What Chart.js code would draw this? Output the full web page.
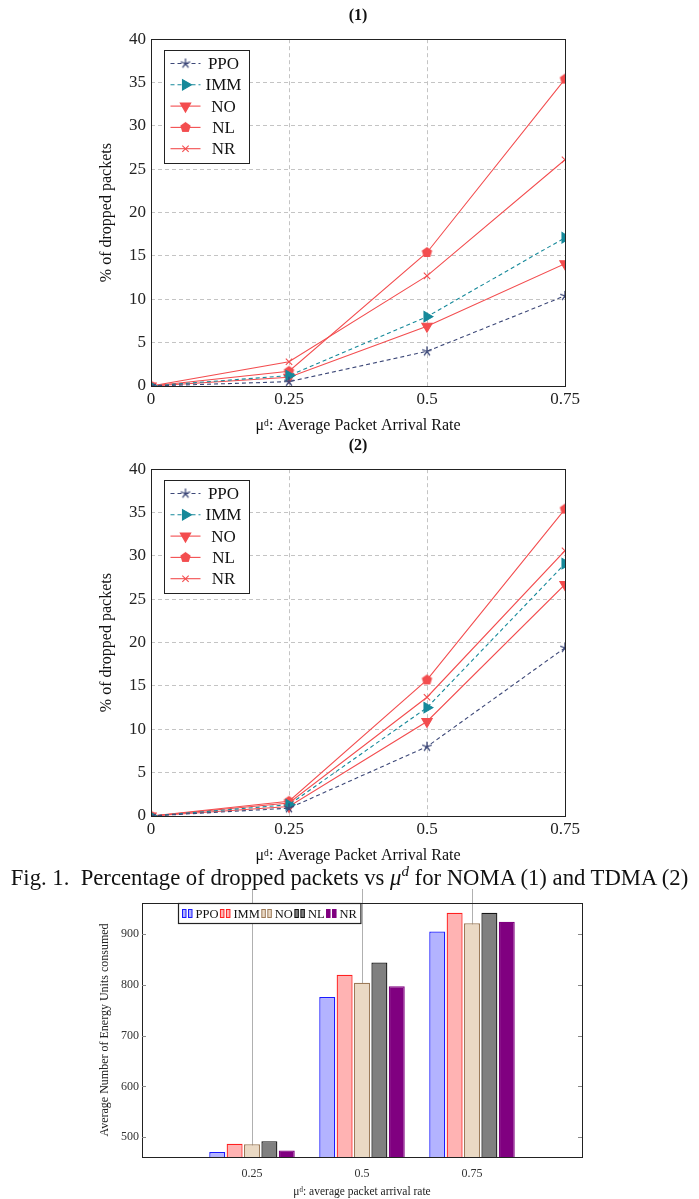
<!DOCTYPE html>
<html lang="en">
<head>
<meta charset="utf-8">
<title>dropped packets / energy</title>
<script src="https://cdn.jsdelivr.net/npm/chart.js@4.4.1/dist/chart.umd.min.js"></script>
<style>
  body { margin: 0; background: #fff; width: 699px; height: 1199px; position: relative; overflow: hidden; }
  canvas { position: absolute; left: 0; }
  #c1 { top: 0; }
  #c2 { top: 430px; }
  #c3 { top: 880px; }
  #caption {
    position: absolute; left: 0; top: 865px; width: 699px; text-align: center;
    font-family: "Liberation Serif", "Times New Roman", serif; font-size: 22.7px; color: #111;
    white-space: nowrap; line-height: 26px;
  }
  #caption sup { font-size: 15px; font-style: italic; line-height: 0; }
</style>
</head>
<body>
<canvas id="c1" width="699" height="435"></canvas>
<canvas id="c2" width="699" height="435"></canvas>
<canvas id="c3" width="699" height="319"></canvas>
<div id="caption">Fig. 1.&nbsp;&nbsp;Percentage of dropped packets vs <i>μ</i><sup>d</sup> for NOMA (1) and TDMA (2)</div>

<script>
// arrival rates (x axis of the line charts)
const rates = [0, 0.25, 0.5, 0.75];

// (1) NOMA - % of dropped packets
const nomaPPO = [0, 0.5, 4.0, 10.4];
const nomaIMM = [0, 1.2, 8.0, 17.1];
const nomaNO  = [0, 1.0, 6.9, 14.1];
const nomaNL  = [0, 1.7, 15.4, 35.4];
const nomaNR  = [0, 2.8, 12.7, 26.1];

// (2) TDMA - % of dropped packets
const tdmaPPO = [0, 0.9, 8.0, 19.4];
const tdmaIMM = [0, 1.3, 12.5, 29.1];
const tdmaNO  = [0, 1.1, 10.9, 26.7];
const tdmaNL  = [0, 1.7, 15.7, 35.4];
const tdmaNR  = [0, 1.5, 13.7, 30.6];

// energy bar chart
const barLabels = ['0', '0.25', '0.5', '0.75', '1'];
const energyPPO = [471, 776, 905];
const energyIMM = [487, 820, 942];
const energyNO  = [486, 804, 921];
const energyNL  = [492, 844, 942];
const energyNR  = [474, 797, 924];
const energyTicks = [500, 600, 700, 800, 900];

const serif = '"Liberation Serif", "Times New Roman", serif';
const cPPO = '#3d4878';
const cIMM = '#16899a';
const cRed = '#f34d4f';

// pgfplots-like markers that chart.js doesn't have
function pentagon(color, r) {
  const c = document.createElement('canvas');
  const s = Math.ceil(r * 2 + 2);
  c.width = c.height = s;
  const g = c.getContext('2d');
  g.fillStyle = color;
  g.beginPath();
  for (let k = 0; k < 5; k++) {
    const a = -Math.PI / 2 + k * 2 * Math.PI / 5;
    const px = s / 2 + r * Math.cos(a), py = s / 2 + r * Math.sin(a);
    if (k) g.lineTo(px, py); else g.moveTo(px, py);
  }
  g.closePath();
  g.fill();
  return c;
}
function asterisk(color, r) {
  const c = document.createElement('canvas');
  const s = Math.ceil(r * 2 + 2);
  c.width = c.height = s;
  const g = c.getContext('2d');
  g.strokeStyle = color;
  g.lineWidth = 1.3;
  g.beginPath();
  for (let k = 0; k < 5; k++) {
    const a = -Math.PI / 2 + k * 2 * Math.PI / 5;
    g.moveTo(s / 2, s / 2);
    g.lineTo(s / 2 + r * Math.cos(a), s / 2 + r * Math.sin(a));
  }
  g.stroke();
  return c;
}
const starImg = asterisk(cPPO, 5);
const pentImg = pentagon(cRed, 5.5);

// plot frame (pgfplots style box)
const frame = {
  id: 'frame',
  afterDatasetsDraw(chart, args, opts) {
    const a = chart.chartArea, ctx = chart.ctx;
    ctx.save();
    if (opts.gridUp) {
      // the bar chart's vertical grid pokes out above the frame
      const x = chart.scales.x;
      ctx.strokeStyle = '#b0b0b0';
      for (let i = 1; i < barLabels.length - 1; i++) {
        const px = Math.round(x.getPixelForTick(i)) + 0.5;
        ctx.beginPath();
        ctx.moveTo(px, a.top); ctx.lineTo(px, a.top - opts.gridUp);
        ctx.stroke();
      }
    }
    ctx.strokeStyle = '#222';
    ctx.lineWidth = 1;
    ctx.strokeRect(Math.round(a.left) + 0.5, Math.round(a.top) + 0.5,
                   Math.round(a.right - a.left), Math.round(a.bottom - a.top));
    if (opts.yTicks) {
      const y = chart.scales.y;
      ctx.strokeStyle = '#888';
      y.ticks.forEach(t => {
        const py = Math.round(y.getPixelForValue(t.value)) + 0.5;
        ctx.beginPath();
        ctx.moveTo(a.left, py); ctx.lineTo(a.left + 4, py);
        ctx.moveTo(a.right, py); ctx.lineTo(a.right - 4, py);
        ctx.stroke();
      });
    }
    ctx.restore();
  }
};

// legend box inside the plot, top left
const boxLegend = {
  id: 'boxLegend',
  afterDraw(chart) {
    const a = chart.chartArea, ctx = chart.ctx;
    const x0 = Math.round(a.left) + 13.5, y0 = Math.round(a.top) + 11.5;
    const w = 85, h = 113, row = 21.3;
    ctx.save();
    ctx.fillStyle = '#fff';
    ctx.fillRect(x0, y0, w, h);
    ctx.strokeStyle = '#222';
    ctx.lineWidth = 1;
    ctx.strokeRect(x0, y0, w, h);
    chart.data.datasets.forEach((ds, i) => {
      const cy = y0 + 13 + i * row;
      ctx.strokeStyle = ds.borderColor;
      ctx.lineWidth = ds.borderWidth;
      ctx.setLineDash(ds.borderDash || []);
      ctx.beginPath();
      ctx.moveTo(x0 + 6, cy); ctx.lineTo(x0 + 36, cy);
      ctx.stroke();
      ctx.setLineDash([]);
      ctx.fillStyle = ds.backgroundColor;
      Chart.helpers.drawPoint(ctx, {
        pointStyle: ds.pointStyle, rotation: ds.pointRotation || 0,
        radius: ds.pointRadius, borderWidth: ds.pointBorderWidth || 1
      }, x0 + 21, cy);
      ctx.fillStyle = '#111';
      ctx.font = '17px ' + serif;
      ctx.textAlign = 'center';
      ctx.textBaseline = 'middle';
      ctx.fillText(ds.label, x0 + 59, cy + 1);
    });
    ctx.restore();
  }
};

function points(vals) {
  return rates.map((x, i) => ({ x: x, y: vals[i] }));
}

function lineChart(id, title, ppo, imm, no, nl, nr) {
  return new Chart(document.getElementById(id), {
    type: 'line',
    data: {
      datasets: [
        { label: 'PPO', data: points(ppo), borderColor: cPPO, backgroundColor: cPPO,
          borderDash: [4, 3], borderWidth: 1.1, pointStyle: starImg, pointRadius: 5 },
        { label: 'IMM', data: points(imm), borderColor: cIMM, backgroundColor: cIMM,
          borderDash: [4, 3], borderWidth: 1.1, pointStyle: 'triangle', pointRotation: 90, pointRadius: 6 },
        { label: 'NO', data: points(no), borderColor: cRed, backgroundColor: cRed,
          borderWidth: 1.1, pointStyle: 'triangle', pointRotation: 180, pointRadius: 6 },
        { label: 'NL', data: points(nl), borderColor: cRed, backgroundColor: cRed,
          borderWidth: 1.1, pointStyle: pentImg, pointRadius: 6 },
        { label: 'NR', data: points(nr), borderColor: cRed, backgroundColor: cRed,
          borderWidth: 1.1, pointStyle: 'crossRot', pointRadius: 4.5, pointBorderWidth: 1.1 }
      ]
    },
    options: {
      responsive: false,
      animation: false,
      layout: { padding: { left: 97, right: 134, top: 0, bottom: 0 } },
      plugins: {
        legend: { display: false },
        tooltip: { enabled: false },
        title: {
          display: true, text: title, fullSize: false, color: '#111',
          font: { family: serif, size: 16, weight: 'bold' },
          padding: { top: 6, bottom: 14 }
        },
        frame: {}
      },
      scales: {
        x: {
          type: 'linear', min: 0, max: 0.75,
          ticks: {
            stepSize: 0.25, color: '#222', font: { family: serif, size: 17 }, padding: 3,
            callback(v) { return String(+v.toFixed(2)); }
          },
          grid: { color: '#c4c4c4', drawTicks: false },
          border: { display: false, dash: [4, 3] },
          title: { display: true, text: 'μᵈ: Average Packet Arrival Rate', color: '#111',
                   font: { family: serif, size: 16 }, padding: { top: 0, bottom: 0 } },
          afterFit(s) { s.height = 49; }
        },
        y: {
          min: 0, max: 40,
          ticks: { stepSize: 5, color: '#222', font: { family: serif, size: 17 }, padding: 5 },
          grid: { color: '#c4c4c4', drawTicks: false },
          border: { display: false, dash: [4, 3] },
          title: { display: true, text: '% of dropped packets', color: '#111',
                   font: { family: serif, size: 16 }, padding: { top: 0, bottom: 0 } },
          afterFit(s) { s.width = 151 - 97; }
        }
      }
    },
    plugins: [frame, boxLegend]
  });
}

lineChart('c1', '(1)', nomaPPO, nomaIMM, nomaNO, nomaNL, nomaNR);
lineChart('c2', '(2)', tdmaPPO, tdmaIMM, tdmaNO, tdmaNL, tdmaNR);

// legend for the bar chart: one row, sitting on the top border
const barLegend = {
  id: 'barLegend',
  afterDraw(chart) {
    const a = chart.chartArea, ctx = chart.ctx;
    const x0 = 178.5, y0 = Math.round(a.top) + 0.5, h = 20;
    ctx.save();
    ctx.font = '12.5px ' + serif;
    let x = x0 + 4;
    const items = [];
    chart.data.datasets.forEach(ds => {
      items.push({ ds, x });
      x += 13 + ctx.measureText(ds.label).width + 2;
    });
    ctx.fillStyle = '#fff';
    ctx.fillRect(x0, y0, x - x0 + 2, h);
    ctx.strokeStyle = '#222';
    ctx.lineWidth = 1.2;
    ctx.strokeRect(x0, y0, x - x0 + 2, h);
    const cy = y0 + h / 2;
    items.forEach(it => {
      ctx.fillStyle = it.ds.backgroundColor;
      ctx.strokeStyle = it.ds.borderColor;
      ctx.lineWidth = 1;
      [0, 6].forEach(dx => {
        ctx.fillRect(it.x + dx, cy - 4, 3.5, 8);
        ctx.strokeRect(it.x + dx, cy - 4, 3.5, 8);
      });
      ctx.fillStyle = '#111';
      ctx.textBaseline = 'middle';
      ctx.fillText(it.ds.label, it.x + 13, cy + 1);
    });
    ctx.restore();
  }
};

function bars(vals) {
  return [null].concat(vals, [null]);
}

new Chart(document.getElementById('c3'), {
  type: 'bar',
  data: {
    labels: barLabels,
    datasets: [
      { label: 'PPO', data: bars(energyPPO), backgroundColor: '#b3b3ff', borderColor: '#1a1aff', borderWidth: 1.3 },
      { label: 'IMM', data: bars(energyIMM), backgroundColor: '#ffb3b3', borderColor: '#ff2020', borderWidth: 1.3 },
      { label: 'NO', data: bars(energyNO), backgroundColor: '#ead9c4', borderColor: '#9c7a58', borderWidth: 1.3 },
      { label: 'NL', data: bars(energyNL), backgroundColor: '#808080', borderColor: '#151515', borderWidth: 1.3 },
      { label: 'NR', data: bars(energyNR), backgroundColor: '#800080', borderColor: '#800080', borderWidth: 1.3 }
    ]
  },
  options: {
    responsive: false,
    animation: false,
    layout: { padding: { left: 98, right: 117, top: 23, bottom: 0 } },
    datasets: { bar: { categoryPercentage: 0.79, barPercentage: 0.92, borderSkipped: 'start' } },
    plugins: {
      legend: { display: false },
      tooltip: { enabled: false },
      frame: { yTicks: true, gridUp: 14 }
    },
    scales: {
      x: {
        offset: false,
        ticks: {
          color: '#333', font: { family: serif, size: 12 }, padding: 10, maxRotation: 0, autoSkip: false,
          callback(v, i) { return (i === 0 || i === barLabels.length - 1) ? '' : barLabels[i]; }
        },
        grid: {
          offset: false,
          drawTicks: false,
          color: c => (c.index === 0 || c.index === barLabels.length - 1) ? 'rgba(0,0,0,0)' : '#b0b0b0'
        },
        border: { display: false },
        title: { display: true, text: 'μᵈ: average packet arrival rate', color: '#222',
                 font: { family: serif, size: 11.5 }, padding: { top: 0, bottom: 0 } },
        afterFit(s) { s.height = 42; }
      },
      y: {
        min: 461, max: 961,
        afterBuildTicks(s) { s.ticks = energyTicks.map(v => ({ value: v })); },
        ticks: { color: '#333', font: { family: serif, size: 12 }, padding: 3 },
        grid: { display: false, drawTicks: false },
        border: { display: false },
        title: { display: true, text: 'Average Number of Energy Units consumed', color: '#222',
                 font: { family: serif, size: 12 }, padding: { top: 0, bottom: 0 } },
        afterFit(s) { s.width = 142 - 98; }
      }
    }
  },
  plugins: [frame, barLegend]
});
</script>
</body>
</html>
